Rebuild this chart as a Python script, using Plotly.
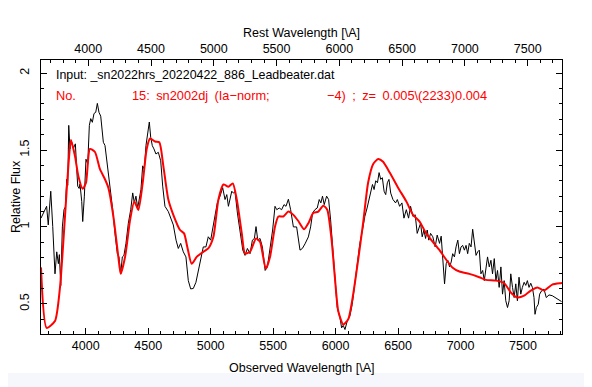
import plotly.graph_objects as go

# ---------------- data ----------------
z = 0.005

obs_wave = [3642, 3660, 3687, 3700, 3720, 3736, 3754, 3768, 3781, 3789, 3800, 3813, 3826, 3837, 3848,
            3856, 3864, 3874, 3885, 3901, 3917, 3928, 3936, 3947, 3954, 3968, 3976, 3989, 4002, 4016,
            4029, 4040, 4053, 4066, 4080, 4093, 4106, 4120, 4130, 4141, 4154, 4167, 4181, 4194, 4216,
            4234, 4253, 4266, 4280, 4293, 4306, 4322, 4341, 4360, 4376, 4389, 4402, 4416, 4429, 4442,
            4456, 4469, 4482, 4496, 4509, 4520, 4533, 4546, 4562, 4581, 4600, 4616, 4634, 4661, 4680,
            4701, 4723, 4741, 4760, 4781, 4802, 4821, 4840, 4861, 4882, 4901, 4920, 4941, 4962, 4981,
            5000, 5016, 5034, 5053, 5075, 5096, 5115, 5129, 5142, 5155, 5169, 5182, 5195, 5214, 5235,
            5257, 5275, 5294, 5315, 5334, 5350, 5363, 5377, 5395, 5414, 5436, 5454, 5475, 5496, 5515,
            5529, 5549, 5568, 5587, 5603, 5622, 5640, 5662, 5688, 5715, 5734, 5755, 5782, 5800, 5816,
            5834, 5853, 5869, 5882, 5895, 5909, 5928, 5944, 5960, 5976, 5994, 6013, 6035, 6048, 6061,
            6075, 6093, 6114, 6133, 6154, 6175, 6194, 6215, 6234, 6252, 6268, 6281, 6295, 6308, 6321,
            6335, 6348, 6361, 6374, 6388, 6401, 6414, 6427, 6441, 6459, 6480, 6494, 6512, 6531, 6547,
            6566, 6584, 6600, 6619, 6637, 6653, 6667, 6680, 6693, 6707, 6720, 6733, 6746, 6760, 6778,
            6797, 6813, 6832, 6845, 6858, 6872, 6885, 6898, 6912, 6925, 6937, 6951, 6964, 6978, 6991,
            7004, 7017, 7031, 7044, 7057, 7070, 7084, 7097, 7110, 7124, 7137, 7150, 7163, 7177, 7190,
            7203, 7216, 7230, 7243, 7256, 7270, 7283, 7296, 7309, 7323, 7336, 7349, 7362, 7376, 7389,
            7402, 7416, 7429, 7442, 7455, 7468, 7482, 7495, 7509, 7522, 7535, 7548, 7562, 7575, 7588,
            7596, 7607, 7622, 7633, 7649, 7668, 7686, 7708, 7734, 7761, 7787, 7808]
obs_flux = [1.057, 1.09, 1.134, 1.013, 1.232, 1.002, 0.695, 0.838, 0.761, 0.82, 0.618, 1.0, 1.112, 1.13, 1.31,
            1.27, 1.66, 1.507, 1.56, 1.51, 1.54, 1.375, 1.265, 1.25, 1.28, 1.166, 1.035, 1.2, 1.44, 1.41,
            1.66, 1.704, 1.68, 1.737, 1.745, 1.803, 1.745, 1.72, 1.64, 1.55, 1.53, 1.44, 1.375, 1.265, 1.112,
            0.958, 0.827, 0.805, 0.695, 0.805, 0.815, 0.893, 1.024, 1.112, 1.221, 1.156, 1.2, 1.123, 1.178, 1.243,
            1.397, 1.375, 1.528, 1.616, 1.682, 1.583, 1.528, 1.507, 1.474, 1.485, 1.43, 1.265, 1.134, 1.1, 1.057,
            1.013, 0.914, 0.86, 0.893, 0.838, 0.805, 0.651, 0.597, 0.6, 0.64, 0.717, 0.805, 0.87, 0.87, 0.936,
            0.914, 0.991, 1.09, 1.156, 1.2, 1.255, 1.178, 1.21, 1.134, 1.178, 1.232, 1.22, 1.23, 1.09, 0.98,
            0.85, 0.815, 0.86, 0.826, 0.914, 0.925, 1.002, 0.914, 0.925, 0.87, 0.717, 0.74, 0.85, 0.98, 1.134,
            1.112, 1.123, 1.112, 1.145, 1.134, 1.18, 1.112, 1.0, 1.0, 0.849, 0.86, 0.89, 0.935, 1.0, 1.09,
            1.112, 1.123, 1.178, 1.156, 1.2, 1.145, 1.2, 1.178, 1.046, 0.87, 0.673, 0.476, 0.41, 0.344, 0.36,
            0.333, 0.388, 0.42, 0.497, 0.63, 0.761, 0.893, 0.98, 1.068, 1.123, 1.178, 1.243, 1.276, 1.243, 1.3,
            1.287, 1.353, 1.309, 1.32, 1.232, 1.21, 1.287, 1.309, 1.22, 1.178, 1.156, 1.178, 1.134, 1.156, 1.057,
            1.112, 1.057, 1.134, 1.068, 1.079, 0.958, 1.0, 1.024, 0.936, 0.98, 0.925, 0.98, 0.914, 0.958, 0.936,
            0.87, 0.947, 0.893, 0.94, 0.805, 0.63, 0.761, 0.783, 0.74, 0.772, 0.826, 0.805, 0.87, 0.914, 0.826,
            0.87, 0.88, 0.849, 0.88, 0.826, 0.893, 0.87, 0.985, 0.893, 0.815, 0.838, 0.849, 0.695, 0.717, 0.651,
            0.717, 0.805, 0.74, 0.783, 0.695, 0.794, 0.651, 0.717, 0.607, 0.74, 0.563, 0.651, 0.52, 0.476, 0.52,
            0.695, 0.607, 0.541, 0.63, 0.52, 0.673, 0.563, 0.607, 0.64, 0.62, 0.651, 0.607, 0.634, 0.607, 0.541,
            0.432, 0.476, 0.497, 0.563, 0.585, 0.596, 0.541, 0.558, 0.553, 0.537, 0.524, 0.515]

tmpl_wave = [3642, 3687, 3754, 3794, 3834, 3861, 3882, 3914, 3941, 3976, 4002, 4034, 4074, 4114, 4154,
             4181, 4221, 4261, 4280, 4315, 4355, 4389, 4421, 4456, 4488, 4515, 4555, 4589, 4621, 4661,
             4701, 4755, 4787, 4813, 4848, 4888, 4941, 4981, 5022, 5062, 5102, 5142, 5177, 5209, 5249,
             5275, 5315, 5363, 5395, 5441, 5475, 5515, 5542, 5582, 5622, 5660, 5700, 5748, 5782, 5821,
             5861, 5901, 5933, 5968, 5994, 6021, 6061, 6101, 6141, 6180, 6220, 6260, 6300, 6340, 6380,
             6433, 6500, 6566, 6619, 6672, 6725, 6778, 6832, 6885, 6937, 6991, 7070, 7150, 7203, 7283,
             7350, 7402, 7455, 7509, 7562, 7615, 7668, 7734, 7801, 7812]
tmpl_flux = [0.737, 0.344, 0.388, 0.607, 1.068, 1.397, 1.565, 1.46, 1.33, 1.248, 1.287, 1.507, 1.487, 1.375, 1.31,
             1.255, 1.07, 0.805, 0.695, 0.805, 1.046, 1.166, 1.11, 1.287, 1.507, 1.575, 1.555, 1.55, 1.397, 1.178,
             1.079, 0.98, 0.958, 0.87, 0.76, 0.805, 0.838, 0.86, 0.936, 1.178, 1.276, 1.261, 1.283, 1.178, 0.958,
             0.827, 0.838, 0.925, 0.903, 0.728, 0.805, 1.002, 1.068, 1.068, 1.1, 1.08, 1.04, 0.985, 1.024, 1.09,
             1.1, 1.138, 1.112, 0.914, 0.673, 0.454, 0.366, 0.4, 0.564, 0.783, 1.024, 1.287, 1.408, 1.441, 1.423,
             1.353, 1.255, 1.166, 1.079, 1.035, 0.958, 0.903, 0.849, 0.787, 0.735, 0.71, 0.695, 0.673, 0.656, 0.651,
             0.634, 0.574, 0.541, 0.553, 0.586, 0.607, 0.586, 0.625, 0.634, 0.635]

obs_range = [3642, 7812]
flux_range = [0.304, 2.085]
obs_ticks = [4000, 4500, 5000, 5500, 6000, 6500, 7000, 7500]
rest_ticks = [4000, 4500, 5000, 5500, 6000, 6500, 7000, 7500]
flux_ticks = [0.5, 1, 1.5, 2]

input_text = "Input: _sn2022hrs_20220422_886_Leadbeater.dat"
match_no = "No."
match_name = "15:\u2002sn2002dj\u2002(Ia\u2212norm;"
match_rest = "\u22124)\u2002;\u2002z=\u20020.005\\(2233)0.004"
x_title = "Observed Wavelength [\\A]"
x2_title = "Rest Wavelength [\\A]"
y_title = "Relative Flux"

# ---------------- figure ----------------
# The page body has an 8px margin, so the figure is placed at (8, 8) in the window.
OFF = 8
FONT = "Liberation Sans, Arial, sans-serif"
W, H = 592 - OFF, 387 - OFF
L, T = 41 - OFF, 60 - OFF
pw, ph = 521, 274
R = W - L - pw
B = H - T - ph


def px(x):
    """window x pixel -> paper coordinate"""
    return (x - OFF - L) / pw


def py(y):
    """window y pixel -> paper coordinate"""
    return (T + ph - (y - OFF)) / ph


fig = go.Figure()
fig.add_trace(go.Scatter(x=obs_wave, y=obs_flux, mode="lines",
                         line=dict(color="black", width=1), hoverinfo="skip", showlegend=False))
fig.add_trace(go.Scatter(x=tmpl_wave, y=tmpl_flux, mode="lines",
                         line=dict(color="#ff0000", width=2, shape="spline", smoothing=0.6),
                         hoverinfo="skip", showlegend=False))
# invisible trace on the rest-wavelength axis
fig.add_trace(go.Scatter(x=[w / (1 + z) for w in obs_range], y=[None, None], xaxis="x2",
                         mode="lines", hoverinfo="skip", showlegend=False))

TICKFONT = dict(family=FONT, size=12.5, color="black")
axis_common = dict(showline=True, linecolor="black", linewidth=1, ticks="inside",
                   tickcolor="black", tickwidth=1, showgrid=False, zeroline=False,
                   automargin=False, tickfont=TICKFONT)
minor_x = dict(dtick=100, tick0=0, ticklen=3, ticks="inside", tickcolor="black", showgrid=False)

fig.update_layout(
    width=W, height=H, autosize=False,
    margin=dict(l=L, r=R, t=T, b=B, pad=0),
    paper_bgcolor="white", plot_bgcolor="white",
    font=dict(family=FONT, color="black"),
    xaxis=dict(range=obs_range, tickvals=obs_ticks, ticklen=6, minor=minor_x,
               ticklabelstandoff=0, **axis_common),
    xaxis2=dict(range=[w / (1 + z) for w in obs_range], overlaying="x", side="top",
                tickvals=rest_ticks, ticklen=6, minor=minor_x, ticklabelstandoff=1,
                **axis_common),
    yaxis=dict(range=flux_range, tickvals=flux_ticks, ticklen=6, tickangle=-90, mirror="ticks",
               minor=dict(dtick=0.1, tick0=0, ticklen=3, ticks="inside", tickcolor="black", showgrid=False),
               ticklabelstandoff=6, **axis_common),
)

fig.add_shape(type="rect", xref="paper", yref="paper", x0=px(0), x1=px(592), y0=py(387), y1=py(373),
              fillcolor="#f5f7fc", line=dict(width=0), layer="below")

TITLEFONT = dict(family=FONT, size=12.5, color="black")
fig.add_annotation(text=x_title, xref="paper", yref="paper", x=0.5, y=py(368),
                   xanchor="center", yanchor="middle", showarrow=False, font=TITLEFONT)
fig.add_annotation(text=x2_title, xref="paper", yref="paper", x=0.5, y=py(33),
                   xanchor="center", yanchor="middle", showarrow=False, font=TITLEFONT)
fig.add_annotation(text=y_title, xref="paper", yref="paper", x=px(16), y=0.5, textangle=-90,
                   xanchor="center", yanchor="middle", showarrow=False, font=TITLEFONT)

fig.add_annotation(text=input_text, xref="paper", yref="paper", x=px(54), y=py(75),
                   xanchor="left", yanchor="middle", showarrow=False,
                   font=dict(family=FONT, size=12.4, color="black"))
red_font = dict(family=FONT, size=12.8, color="#ff0000")
fig.add_annotation(text=match_no, xref="paper", yref="paper", x=px(54), y=py(95),
                   xanchor="left", yanchor="middle", showarrow=False, font=red_font)
fig.add_annotation(text=match_name, xref="paper", yref="paper", x=px(130), y=py(95),
                   xanchor="left", yanchor="middle", showarrow=False, font=red_font)
fig.add_annotation(text=match_rest, xref="paper", yref="paper", x=px(325), y=py(95),
                   xanchor="left", yanchor="middle", showarrow=False, font=red_font)

fig.write_html("out.html")
